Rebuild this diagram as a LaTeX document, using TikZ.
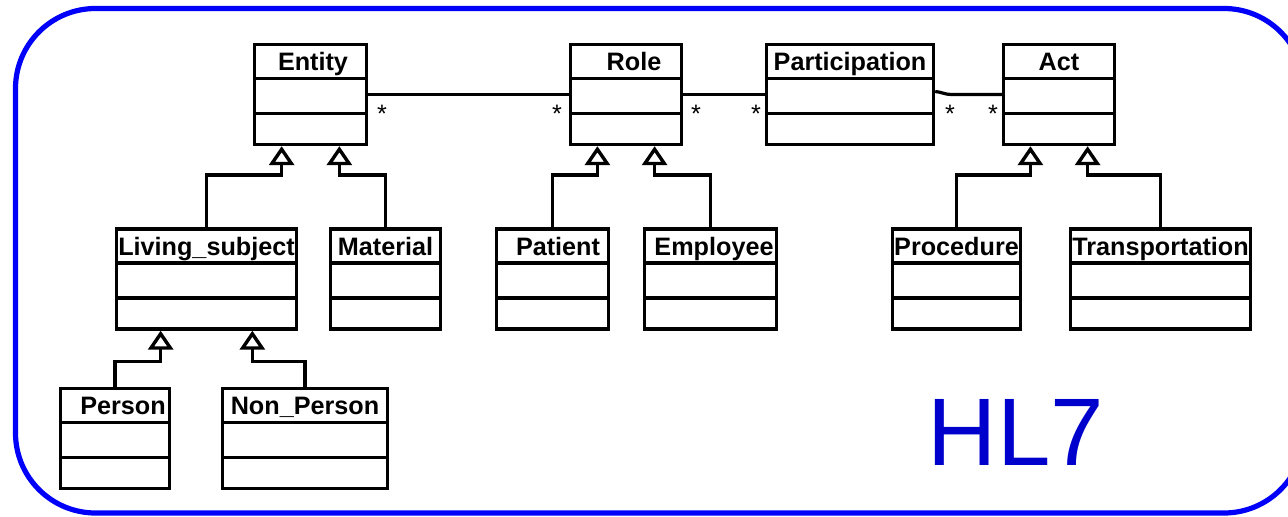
\documentclass[tikz,border=0pt]{standalone}
\usepackage{fontspec}
\setmainfont{Liberation Sans}
\usetikzlibrary{calc,arrows.meta}

\definecolor{hlblue}{RGB}{0,0,250}
\definecolor{hltext}{RGB}{0,0,205}

\begin{document}
\begin{tikzpicture}[x=0.5pt,y=-0.5pt,
  class/.style={draw, line width=1.7pt, inner xsep=0pt, inner ysep=0pt,
    text height=13.25pt, text depth=36.75pt,
    font=\fontsize{12.6}{15}\selectfont\bfseries,
    path picture={
      \draw[line width=1.7pt] ([yshift=-17pt]path picture bounding box.north west) -- ([yshift=-17pt]path picture bounding box.north east);
      \draw[line width=1.7pt] ([yshift=-34.5pt]path picture bounding box.north west) -- ([yshift=-34.5pt]path picture bounding box.north east);}},
  assoc/.style={line width=1.6pt},
  gen/.style={line width=1.7pt, -{Triangle[open, length=9.5pt, width=12.5pt]}},
  mult/.style={anchor=base, inner sep=0pt, font=\fontsize{12.6}{15}\selectfont}]
\useasboundingbox (0,0) rectangle (1288,517);
\clip (0,0) rectangle (1288,517);
\draw[hlblue, line width=2.6pt, rounded corners=40pt] (15.5,8.5) rectangle (1304,513);

% top row
\node[class, minimum width=56pt] (entity) at (310.5,94.5) {\hspace*{2.5pt}Entity};
\node[class, minimum width=55.5pt] (role) at (626,94.5) {\hspace*{8pt}Role};
\node[class, minimum width=83.5pt] (part) at (850,94.5) {Participation};
\node[class, minimum width=55.5pt] (act) at (1059,94.5) {Act};
% second row
\node[class, minimum width=90pt] (living) at (206.5,279) {Living\_subject};
\node[class, minimum width=55pt] (matl) at (385.5,279) {Material};
\node[class, minimum width=56pt] (patient) at (552.5,279) {\hspace*{5.5pt}Patient};
\node[class, minimum width=66pt] (employee) at (710.5,279) {\hspace*{3.5pt}Employee};
\node[class, minimum width=64pt] (proc) at (956.5,279) {Procedure};
\node[class, minimum width=90pt] (transp) at (1160.5,279) {Transportation};
% third row
\node[class, minimum width=54.5pt] (person) at (115,438.5) {\hspace*{8pt}Person};
\node[class, minimum width=82.5pt] (nonperson) at (305,438.5) {Non\_Person};

% associations
\draw[assoc] (entity.east) -- (role.west);
\draw[assoc] (role.east) -- (part.west);
\draw[assoc] ($(part.east)+(0,-3)$) to[out=-5,in=180] ($(part.east)+(16,0)$) -- (act.west);
\node[mult] (m1) at (382,123) {*};
\node[mult] (m2) at (557,123) {*};
\node[mult] (m3) at (696,123) {*};
\node[mult] (m4) at (756,123) {*};
\node[mult] (m5) at (950,123) {*};
\node[mult] (m6) at (993,123) {*};

% generalisations
\coordinate (e1) at ($(entity.south west)!.25!(entity.south east)$);
\coordinate (e2) at ($(entity.south west)!.75!(entity.south east)$);
\coordinate (r1) at ($(role.south west)!.25!(role.south east)$);
\coordinate (r2) at ($(role.south west)!.75!(role.south east)$);
\coordinate (a1) at ($(act.south west)!.25!(act.south east)$);
\coordinate (a2) at ($(act.south west)!.75!(act.south east)$);
\coordinate (l1) at ($(living.south west)!.25!(living.south east)$);
\coordinate (l2) at ($(living.south west)!.75!(living.south east)$);
\draw[gen] (living.north) |- ($(e1)+(0,29)$) -- (e1);
\draw[gen] (matl.north) |- ($(e2)+(0,29)$) -- (e2);
\draw[gen] (patient.north) |- ($(r1)+(0,29)$) -- (r1);
\draw[gen] (employee.north) |- ($(r2)+(0,29)$) -- (r2);
\draw[gen] (proc.north) |- ($(a1)+(0,29)$) -- (a1);
\draw[gen] (transp.north) |- ($(a2)+(0,29)$) -- (a2);
\draw[gen] (person.north) |- ($(l1)+(0,31)$) -- (l1);
\draw[gen] (nonperson.north) |- ($(l2)+(0,31)$) -- (l2);

\node[text=hltext, font=\fontsize{48}{50}\selectfont, anchor=base, inner sep=0pt] (hl7) at (1016,465) {HL7};
\end{tikzpicture}
\end{document}
